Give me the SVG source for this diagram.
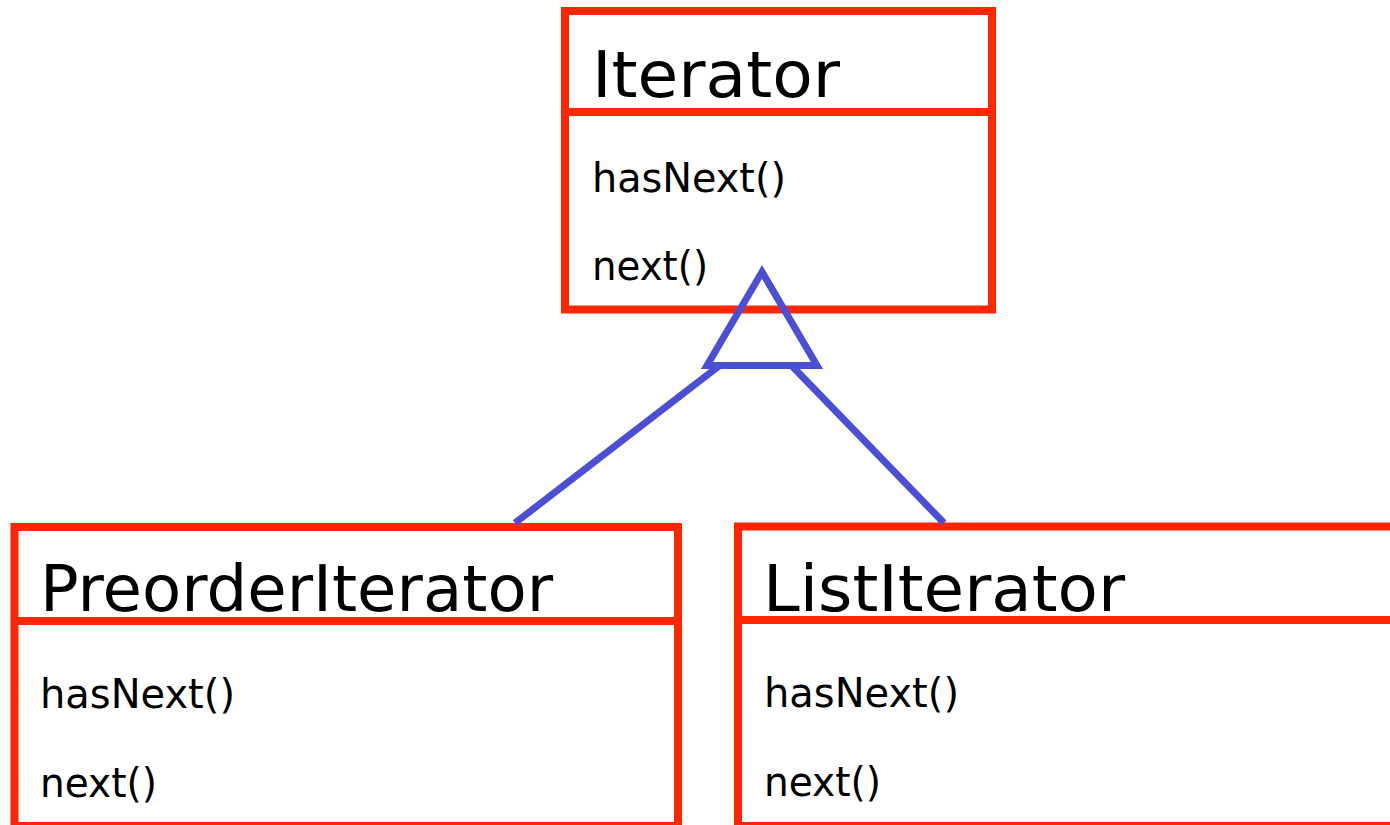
<svg xmlns="http://www.w3.org/2000/svg" width="1390" height="825" viewBox="0 0 1390 825">
<style>
.box{fill:none;stroke:#ff2600;stroke-width:8}
.div{stroke:#ff2600;stroke-width:8}
.title{font-family:"DejaVu Sans",sans-serif;font-size:64px;fill:#000}
.op{font-family:"DejaVu Sans",sans-serif;font-size:40px;fill:#000}
.conn{stroke:#4a4fd6;stroke-width:7;fill:none}
</style>
<rect width="1390" height="825" fill="#fff"/>
<g id="iterator">
<rect class="box" x="565" y="11" width="427" height="298.5"/>
<line class="div" x1="565" y1="112" x2="992" y2="112"/>
<text class="title" x="592" y="97" textLength="248" lengthAdjust="spacingAndGlyphs">Iterator</text>
<text class="op" x="592" y="192" textLength="194" lengthAdjust="spacingAndGlyphs">hasNext()</text>
<text class="op" x="592" y="280" textLength="116" lengthAdjust="spacingAndGlyphs">next()</text>
</g>
<g id="preorderIterator">
<rect class="box" x="14.5" y="527" width="663.5" height="299"/>
<line class="div" x1="14.5" y1="621" x2="678" y2="621"/>
<text class="title" x="40" y="611" textLength="513" lengthAdjust="spacingAndGlyphs">PreorderIterator</text>
<text class="op" x="40" y="708" textLength="195" lengthAdjust="spacingAndGlyphs">hasNext()</text>
<text class="op" x="40" y="797" textLength="117" lengthAdjust="spacingAndGlyphs">next()</text>
</g>
<g id="listIterator">
<rect class="box" x="738" y="526.5" width="700" height="299.5"/>
<line class="div" x1="738" y1="620" x2="1400" y2="620"/>
<text class="title" x="763" y="611" textLength="362" lengthAdjust="spacingAndGlyphs">ListIterator</text>
<text class="op" x="764" y="707" textLength="195" lengthAdjust="spacingAndGlyphs">hasNext()</text>
<text class="op" x="764" y="796" textLength="117" lengthAdjust="spacingAndGlyphs">next()</text>
</g>
<g id="connectors">
<polygon class="conn" points="762,272 707,365.5 817,365.5" stroke-linejoin="miter"/>
<line class="conn" x1="719" y1="366" x2="515" y2="523"/>
<line class="conn" x1="792" y1="366" x2="944" y2="523"/>
</g>
</svg>
